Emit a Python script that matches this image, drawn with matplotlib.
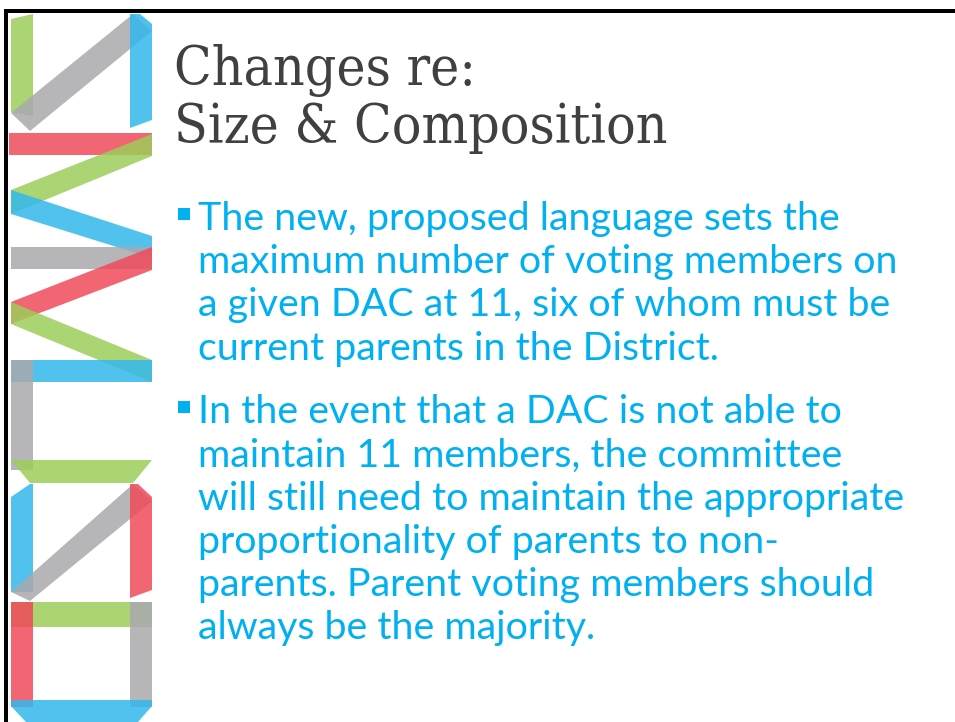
import matplotlib
matplotlib.use("Agg")
import matplotlib.pyplot as plt
from matplotlib.patches import Polygon, Rectangle

# ---- content ----
title_lines = ["Changes re:", "Size & Composition"]
bullet_1 = ["The new, proposed language sets the",
            "maximum number of voting members on",
            "a given DAC at 11, six of whom must be",
            "current parents in the District."]
bullet_2 = ["In the event that a DAC is not able to",
            "maintain 11 members, the committee",
            "will still need to maintain the appropriate",
            "proportionality of parents to non-",
            "parents. Parent voting members should",
            "always be the majority."]

GREEN = "#9dcd5a"
GRAY = "#a9a9ad"
BLUE = "#33b8ec"
RED = "#f04a5a"

# decorative ribbon (logo) segments: colour + outline in slide pixels
ribbon = [
    (GREEN, [(11, 19), (33, 14), (33, 116), (11, 112)]),
    (GRAY,  [(11, 113), (30, 131), (152, 31), (133, 14)]),
    (BLUE,  [(130, 14), (140, 14), (152, 24), (152, 120), (130, 128)]),
    (RED,   [(9, 133), (152, 133), (152, 155), (9, 155)]),
    (GREEN, [(152, 134), (152, 156), (11, 214), (11, 190)]),
    (BLUE,  [(11, 190), (11, 214), (152, 258), (152, 236)]),
    (GRAY,  [(11, 247), (152, 247), (152, 269), (11, 269)]),
    (RED,   [(152, 247), (152, 270), (11, 324), (11, 302)]),
    (GREEN, [(11, 302), (11, 324), (152, 382), (152, 360)]),
    (BLUE,  [(11, 360), (152, 360), (152, 382), (11, 382)]),
    (GRAY,  [(11, 360), (33, 360), (33, 470), (11, 470)]),
    (GREEN, [(11, 460), (152, 460), (133, 483), (30, 483)]),
    (BLUE,  [(11, 497), (30, 484), (33, 484), (33, 592), (11, 592)]),
    (GRAY,  [(11, 592), (30, 601), (152, 501), (133, 484)]),
    (RED,   [(130, 484), (138, 484), (152, 497), (152, 590), (130, 598)]),
    (GREEN, [(11, 602), (152, 602), (152, 627), (11, 627)]),
    (RED,   [(11, 602), (33, 602), (33, 707), (11, 707)]),
    (GRAY,  [(130, 602), (152, 602), (152, 707), (130, 707)]),
    (BLUE,  [(11, 700), (152, 700), (152, 706), (138, 722), (26, 722), (11, 706)]),
]

W, H = 955, 722
fig = plt.figure(figsize=(W / 100, H / 100), dpi=100)
ax = fig.add_axes([0, 0, 1, 1])
ax.set_xlim(0, W)
ax.set_ylim(H, 0)
ax.axis("off")

# slide frame
ax.add_patch(Rectangle((4, 9), W, 3.5, color="black", lw=0))
ax.add_patch(Rectangle((4, 9), 3.5, H, color="black", lw=0))

for col, pts in ribbon:
    ax.add_patch(Polygon(pts, closed=True, facecolor=col, edgecolor="none", alpha=0.85))

# title
title_font = dict(family="DejaVu Serif", fontsize=39.5, color="#404040",
                  fontstretch="condensed")
for i, line in enumerate(title_lines):
    ax.text(174, 85 + i * 58, line, va="baseline", ha="left", **title_font)

# bullets
body_font = dict(family="Lato", fontsize=28.4, color="#00b0f0")
line_h = 43.2
y = 230
for block in (bullet_1, bullet_2):
    ax.add_patch(Rectangle((178, y - 22), 12, 12, color="#00b0f0", lw=0))
    for line in block:
        ax.text(198, y, line, va="baseline", ha="left", **body_font)
        y += line_h
    y += 20.5

fig.savefig("out.png", dpi=100, facecolor="white")
